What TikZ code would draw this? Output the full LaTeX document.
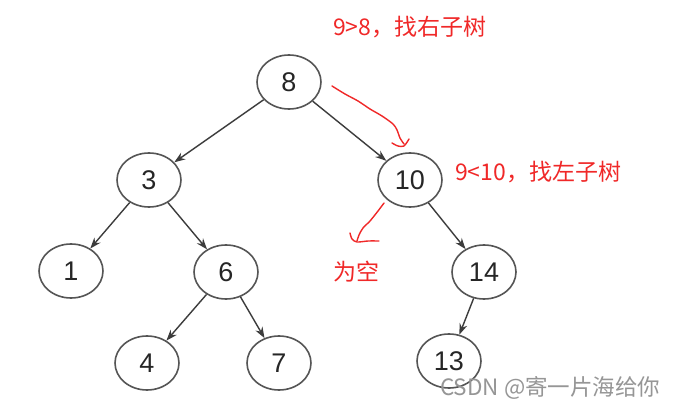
\documentclass[tikz,border=0pt]{standalone}
\usepackage{fontspec}
\setmainfont{Liberation Sans}
\newfontfamily\cjk{Noto Sans CJK SC}
\usetikzlibrary{shapes.geometric,arrows.meta}
\definecolor{redink}{RGB}{240,40,40}
\definecolor{ringgray}{RGB}{85,85,85}
\definecolor{edgegray}{RGB}{60,60,60}
\definecolor{wmgray}{RGB}{150,150,150}
\tikzset{
  treenode/.style={ellipse,draw=ringgray,line width=1.6pt,minimum width=64pt,minimum height=54pt,inner sep=0pt,
    font=\fontsize{27}{27}\selectfont,text=black!85},
  treeedge/.style={draw=edgegray,line width=1.4pt,-{Stealth[length=11pt,width=8pt]}},
  redlabel/.style={text=redink,font=\cjk\fontsize{23}{23}\selectfont,inner sep=0pt},
  redstroke/.style={draw=redink,line width=1.4pt,line cap=round,line join=round},
}
\begin{document}
\begin{tikzpicture}[x=1pt,y=-1pt]
\useasboundingbox (0,0) rectangle (686,412);
\fill[white] (0,0) rectangle (686,412);
% nodes
\node[treenode] (n8) at (289,82) {8};
\node[treenode] (n3) at (149,180) {3};
\node[treenode] (n10) at (410,180) {10};
\node[treenode] (n1) at (71,271) {1};
\node[treenode] (n6) at (226,272) {6};
\node[treenode] (n14) at (484,272) {14};
\node[treenode] (n4) at (147,363) {4};
\node[treenode] (n7) at (279,363) {7};
\node[treenode] (n13) at (449,361) {13};
% edges
\draw[treeedge] (n8) -- (n3);
\draw[treeedge] (n8) -- (n10);
\draw[treeedge] (n3) -- (n1);
\draw[treeedge] (n3) -- (n6);
\draw[treeedge] (n6) -- (n4);
\draw[treeedge] (n6) -- (n7);
\draw[treeedge] (n10) -- (n14);
\draw[treeedge] (n14) -- (n13);
% red annotations
\node[redlabel,anchor=west] (t1) at (333,27) {9>8，找右子树};
\node[redlabel,anchor=west] (t2) at (455,172) {9<10，找左子树};
\node[redlabel,anchor=west] (t3) at (333,272) {为空};
\draw[redstroke] plot[smooth] coordinates {(332,86) (345,94) (358,101) (370,109) (382,116) (393,124) (397,130) (400,138) (404,144)};
\draw[redstroke] plot[smooth] coordinates {(392,143) (398,146) (404,146) (409,139)};
\draw[redstroke] plot[smooth] coordinates {(384,203) (378,211) (370,221) (363,228) (359,235) (357,241)};
\draw[redstroke] plot[smooth] coordinates {(350,233) (352,239) (357,242) (368,241) (379,241)};
% watermark
\node[text=wmgray,font=\cjk\fontsize{22.5}{22.5}\selectfont,anchor=west,inner sep=0pt] (wm) at (440,388) {CSDN @寄一片海给你};
\end{tikzpicture}
\end{document}
